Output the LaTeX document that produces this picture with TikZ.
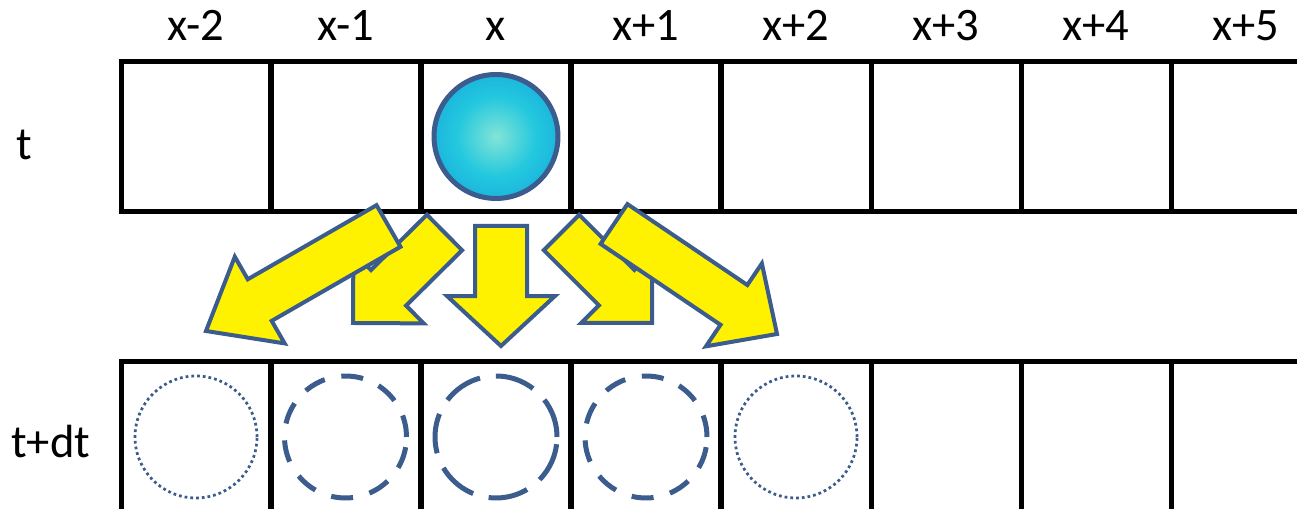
\documentclass[tikz,border=0pt]{standalone}
\usepackage{fontspec}
\setmainfont{Carlito}
\usepackage{xcolor}
\usetikzlibrary{calc}

\definecolor{edgeblue}{RGB}{59,92,140}
\definecolor{ballin}{RGB}{130,228,215}
\definecolor{ballmid}{RGB}{35,200,222}
\definecolor{ballout}{RGB}{8,132,224}
\pgfdeclareradialshading{ballshade}{\pgfpoint{0bp}{0bp}}{color(0bp)=(ballin); color(16bp)=(ballmid); color(50bp)=(ballout)}

% block arrow: start, tip, shaft half width, head half width, head length
\newcommand{\blockarrow}[5]{%
  \draw[blockarrow] ($(#1)!#3!90:(#2)$)
    -- ($(#2)!#5!(#1)!#3!-90:(#1)$)
    -- ($(#2)!#5!(#1)!#4!-90:(#1)$)
    -- (#2)
    -- ($(#2)!#5!(#1)!#4!90:(#1)$)
    -- ($(#2)!#5!(#1)!#3!90:(#1)$)
    -- ($(#1)!#3!-90:(#2)$) -- cycle;}

\begin{document}
\begin{tikzpicture}[x=0.02cm,y=0.02cm,
  cell/.style={draw, line width=0.1cm, minimum width=3cm, minimum height=3cm, inner sep=0, outer sep=0},
  lbl/.style={font=\fontsize{26.5}{31}\selectfont, inner sep=0, anchor=base},
  ball/.style={circle, draw=edgeblue, line width=0.1cm, minimum size=2.48cm, inner sep=0, shading=ballshade},
  ghost/.style={circle, draw=edgeblue, minimum size=2.44cm, inner sep=0},
  dotring/.style={ghost, line width=0.055cm, dash pattern=on 0.055cm off 0.06cm},
  shortdash/.style={ghost, line width=0.1cm, dash pattern=on 0.44cm off 0.34cm},
  longdash/.style={ghost, line width=0.1cm, dash pattern=on 0.8cm off 0.32cm},
  blockarrow/.style={draw=edgeblue, fill=yellow, line width=0.08cm}]
  \useasboundingbox (0,0) rectangle (1297,509);
  \clip (0,0) rectangle (1297,509);
  % cells and labels
  \foreach \i/\txt in {0/x-2,1/x-1,2/x,3/x+1,4/x+2,5/x+3,6/x+4,7/x+5} {
    \node[cell] (top\i) at (196+150*\i,372.5) {};
    \node[cell] (bot\i) at (196+150*\i,72.5) {};
    \node[lbl] (lab\i) at (196+150*\i,468) {\txt};
  }
  \node[lbl,anchor=base west] (tnow) at (16,349) {t};
  \node[lbl,anchor=base west] (tnext) at (11,51) {t+dt};
  % particle and where it may go
  \node[ball] (ball) at (top2) {};
  \node[dotring] (g0) at (196,72) {};
  \node[shortdash] (g1) at (345.5,72) {};
  \node[longdash] (g2) at (496,72) {};
  \node[shortdash] (g3) at (646,72) {};
  \node[dotring] (g4) at (796,72) {};
  % jumps
  \coordinate (s1) at (444.5,276.5);  \coordinate (e1) at (353,186);
  \coordinate (s3) at (561.5,276.5);  \coordinate (e3) at (652,186);
  \coordinate (s2) at (501,283);      \coordinate (e2) at (501,163);
  \coordinate (s0) at (388.5,283);    \coordinate (e0) at (206,178);
  \coordinate (s4) at (614,285);      \coordinate (e4) at (777,175);
  \blockarrow{s1}{e1}{0.5cm}{1.0cm}{1.0cm}
  \blockarrow{s3}{e3}{0.5cm}{1.0cm}{1.0cm}
  \blockarrow{s2}{e2}{0.52cm}{1.08cm}{1.0cm}
  \blockarrow{s0}{e0}{0.48cm}{1.0cm}{1.24cm}
  \blockarrow{s4}{e4}{0.48cm}{1.0cm}{1.04cm}
\end{tikzpicture}
\end{document}
